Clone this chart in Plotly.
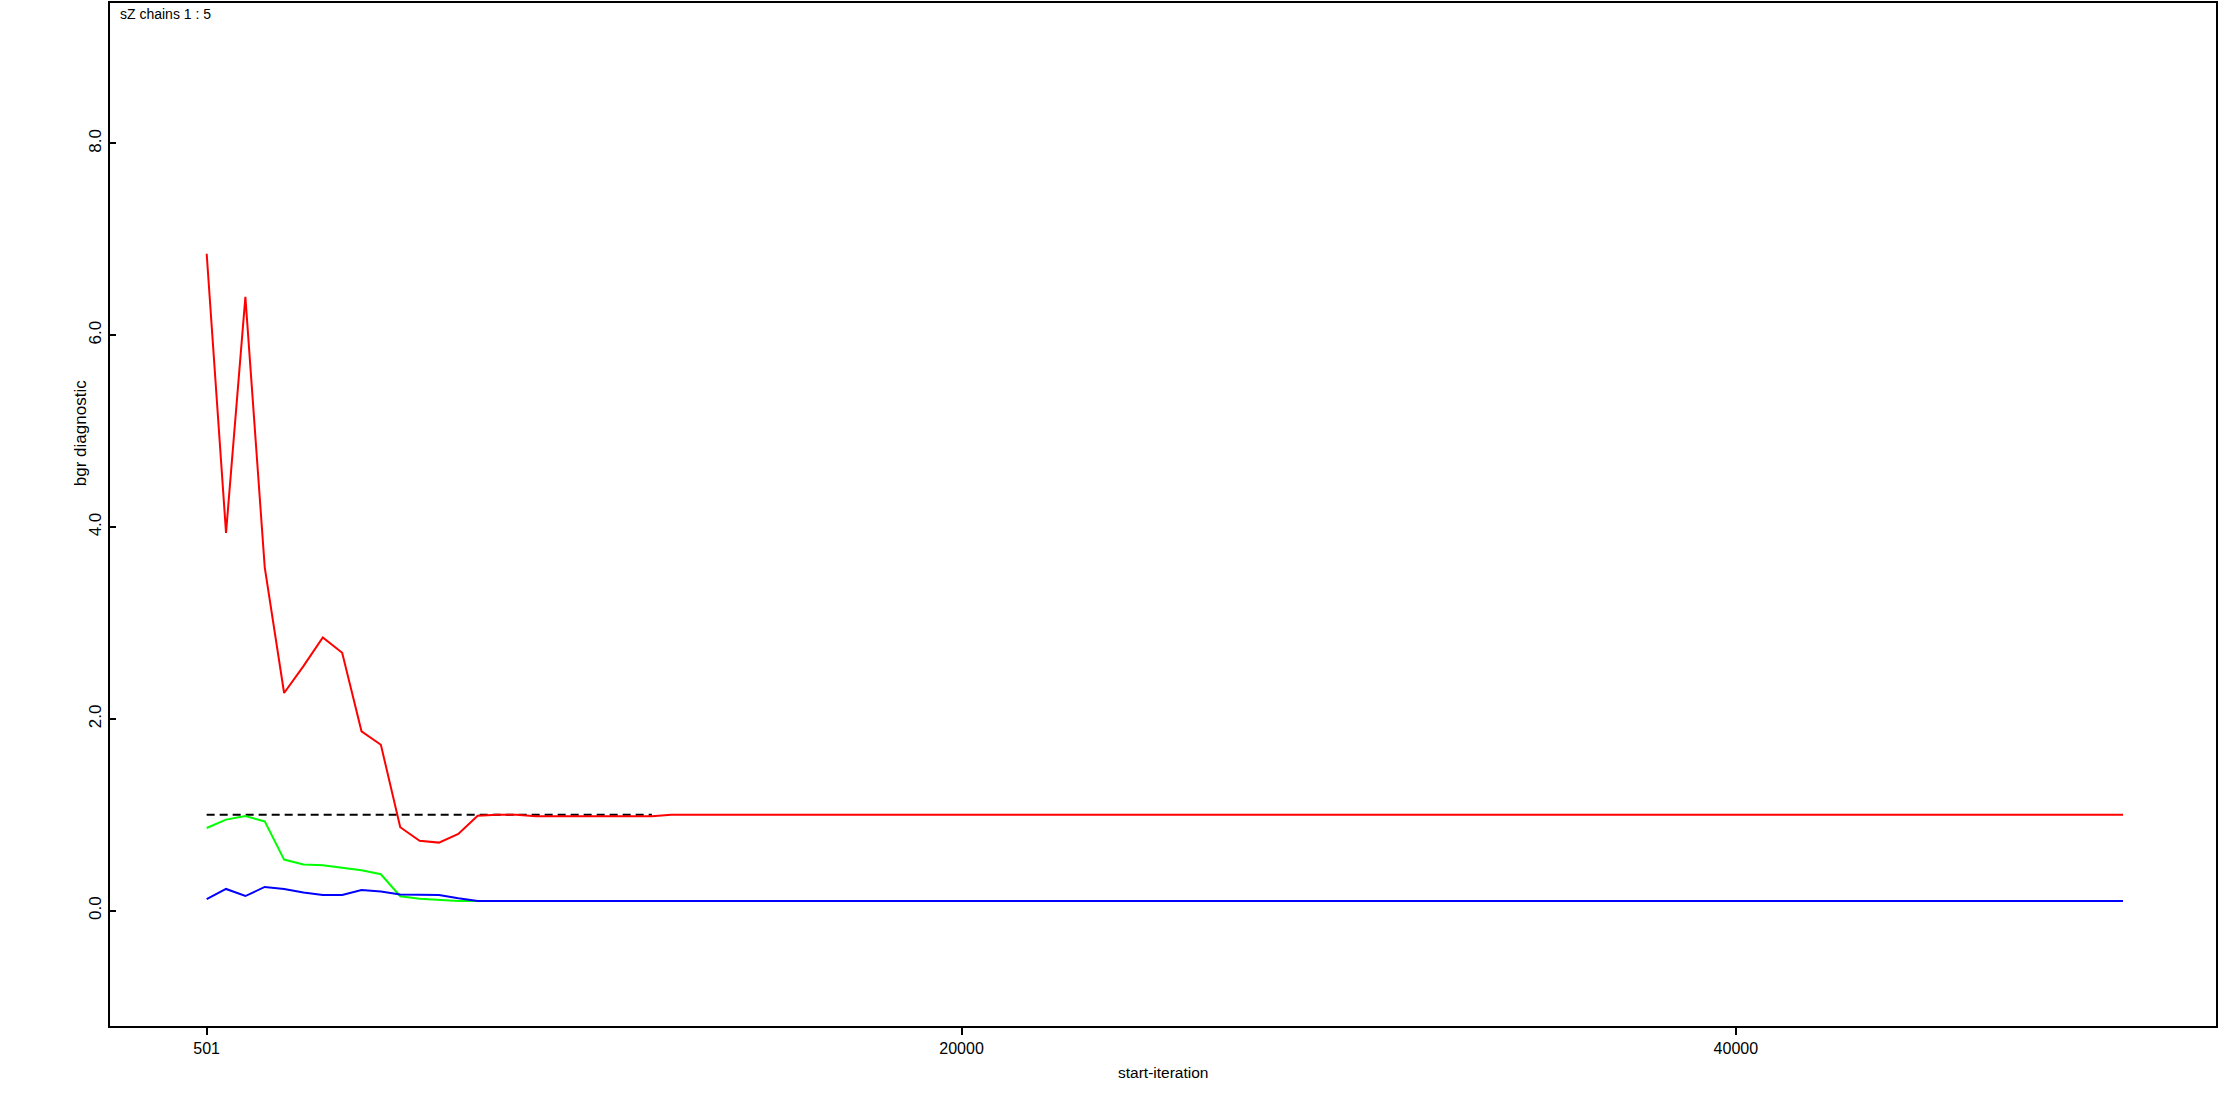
import plotly.graph_objects as go

# ---- data ----
start_iter = [501, 1001, 1501, 2001, 2501, 3001, 3501, 4001, 4501, 5001,
              5501, 6001, 6501, 7001, 7501, 8001, 8501, 9001, 9501, 10001,
              10501, 11001, 11501, 12001, 12501, 13001, 13501, 14001, 14501, 15001,
              15501, 16001, 16501, 17001, 17501, 18001, 18501, 19001, 19501, 20001,
              20501, 21001, 21501, 22001, 22501, 23001, 23501, 24001, 24501, 25001,
              25501, 26001, 26501, 27001, 27501, 28001, 28501, 29001, 29501, 30001,
              30501, 31001, 31501, 32001, 32501, 33001, 33501, 34001, 34501, 35001,
              35501, 36001, 36501, 37001, 37501, 38001, 38501, 39001, 39501, 40001,
              40501, 41001, 41501, 42001, 42501, 43001, 43501, 44001, 44501, 45001,
              45501, 46001, 46501, 47001, 47501, 48001, 48501, 49001, 49501, 50001]

bgr_ratio = [6.85, 3.94, 6.40, 3.58, 2.27, 2.55, 2.85, 2.69, 1.87, 1.73,
             0.87, 0.73, 0.71, 0.80, 0.99, 1.001, 1.001, 0.986, 0.986, 0.986,
             0.986, 0.986, 0.986, 0.986, 1.001, 1.001, 1.001, 1.001, 1.001, 1.001,
             1.001, 1.001, 1.001, 1.001, 1.001, 1.001, 1.001, 1.001, 1.001, 1.001,
             1.001, 1.001, 1.001, 1.001, 1.001, 1.001, 1.001, 1.001, 1.001, 1.001,
             1.001, 1.001, 1.001, 1.001, 1.001, 1.001, 1.001, 1.001, 1.001, 1.001,
             1.001, 1.001, 1.001, 1.001, 1.001, 1.001, 1.001, 1.001, 1.001, 1.001,
             1.001, 1.001, 1.001, 1.001, 1.001, 1.001, 1.001, 1.001, 1.001, 1.001,
             1.001, 1.001, 1.001, 1.001, 1.001, 1.001, 1.001, 1.001, 1.001, 1.001,
             1.001, 1.001, 1.001, 1.001, 1.001, 1.001, 1.001, 1.001, 1.001, 1.001]

pooled_width = [0.862, 0.950, 0.986, 0.931, 0.533, 0.481, 0.473, 0.450, 0.421, 0.380,
                0.151, 0.125, 0.115, 0.102, 0.102, 0.102, 0.102, 0.102, 0.102, 0.102,
                0.102, 0.102, 0.102, 0.102, 0.102, 0.102, 0.102, 0.102, 0.102, 0.102,
                0.102, 0.102, 0.102, 0.102, 0.102, 0.102, 0.102, 0.102, 0.102, 0.102,
                0.102, 0.102, 0.102, 0.102, 0.102, 0.102, 0.102, 0.102, 0.102, 0.102,
                0.102, 0.102, 0.102, 0.102, 0.102, 0.102, 0.102, 0.102, 0.102, 0.102,
                0.102, 0.102, 0.102, 0.102, 0.102, 0.102, 0.102, 0.102, 0.102, 0.102,
                0.102, 0.102, 0.102, 0.102, 0.102, 0.102, 0.102, 0.102, 0.102, 0.102,
                0.102, 0.102, 0.102, 0.102, 0.102, 0.102, 0.102, 0.102, 0.102, 0.102,
                0.102, 0.102, 0.102, 0.102, 0.102, 0.102, 0.102, 0.102, 0.102, 0.102]

within_width = [0.120, 0.227, 0.153, 0.248, 0.227, 0.189, 0.163, 0.163, 0.216, 0.201,
                0.169, 0.169, 0.163, 0.130, 0.102, 0.102, 0.102, 0.102, 0.102, 0.102,
                0.102, 0.102, 0.102, 0.102, 0.102, 0.102, 0.102, 0.102, 0.102, 0.102,
                0.102, 0.102, 0.102, 0.102, 0.102, 0.102, 0.102, 0.102, 0.102, 0.102,
                0.102, 0.102, 0.102, 0.102, 0.102, 0.102, 0.102, 0.102, 0.102, 0.102,
                0.102, 0.102, 0.102, 0.102, 0.102, 0.102, 0.102, 0.102, 0.102, 0.102,
                0.102, 0.102, 0.102, 0.102, 0.102, 0.102, 0.102, 0.102, 0.102, 0.102,
                0.102, 0.102, 0.102, 0.102, 0.102, 0.102, 0.102, 0.102, 0.102, 0.102,
                0.102, 0.102, 0.102, 0.102, 0.102, 0.102, 0.102, 0.102, 0.102, 0.102,
                0.102, 0.102, 0.102, 0.102, 0.102, 0.102, 0.102, 0.102, 0.102, 0.102]

ref_x = [501, 12001]
ref_y = [1.0, 1.0]

x_tickvals = [501, 20000, 40000]
x_ticktext = ["501", "20000", "40000"]
y_tickvals = [0, 2, 4, 6, 8]
y_ticktext = ["0.0", "2.0", "4.0", "6.0", "8.0"]

FONT = "Liberation Sans, Arial, sans-serif"

fig = go.Figure()
fig.add_trace(go.Scatter(x=ref_x, y=ref_y, mode="lines",
                         line=dict(color="black", width=2, dash="8px,5px"),
                         hoverinfo="skip"))
fig.add_trace(go.Scatter(x=start_iter, y=bgr_ratio, mode="lines",
                         line=dict(color="#ff0000", width=2)))
fig.add_trace(go.Scatter(x=start_iter, y=pooled_width, mode="lines",
                         line=dict(color="#00ff00", width=2)))
fig.add_trace(go.Scatter(x=start_iter, y=within_width, mode="lines",
                         line=dict(color="#0000ff", width=2)))

W, H = 2219, 1095
ML, MR, MT, MB = 110, 2, 1, 69
PW, PH = W - ML - MR, H - MT - MB


def px(xp):
    return (xp - ML) / PW


def py(yp):
    return (H - MB - yp) / PH


fig.update_layout(
    width=W, height=H, autosize=False,
    margin=dict(l=ML, r=MR, t=MT, b=MB, pad=0),
    paper_bgcolor="white", plot_bgcolor="white",
    showlegend=False,
    font=dict(family=FONT, color="black", size=16),
    xaxis=dict(range=[-1996, 52403], tickvals=x_tickvals, ticktext=x_ticktext,
               ticks="outside", ticklen=7, tickwidth=2, tickcolor="black",
               showline=True, mirror=True, linewidth=2, linecolor="black",
               showgrid=False, zeroline=False,
               tickfont=dict(family=FONT, size=16, color="black")),
    yaxis=dict(range=[-1.202, 9.464], tickvals=y_tickvals, ticktext=y_ticktext,
               ticks="inside", ticklen=6, tickwidth=2, tickcolor="black",
               tickangle=-90,
               showline=True, mirror=True, linewidth=2, linecolor="black",
               showgrid=False, zeroline=False,
               tickfont=dict(family=FONT, size=17, color="black")),
    annotations=[
        dict(text="sZ chains 1 : 5", xref="paper", yref="paper",
             x=px(118), y=py(12.5), xanchor="left", yanchor="middle",
             showarrow=False, font=dict(family=FONT, size=14, color="black")),
        dict(text="bgr diagnostic", xref="paper", yref="paper",
             x=px(80), y=py(432), xanchor="center", yanchor="middle",
             textangle=-90, showarrow=False,
             font=dict(family=FONT, size=17, color="black")),
        dict(text="start-iteration", xref="paper", yref="paper",
             x=px(1163), y=py(1073), xanchor="center", yanchor="middle",
             showarrow=False, font=dict(family=FONT, size=15.5, color="black")),
    ],
)

fig.write_html("out.html")
